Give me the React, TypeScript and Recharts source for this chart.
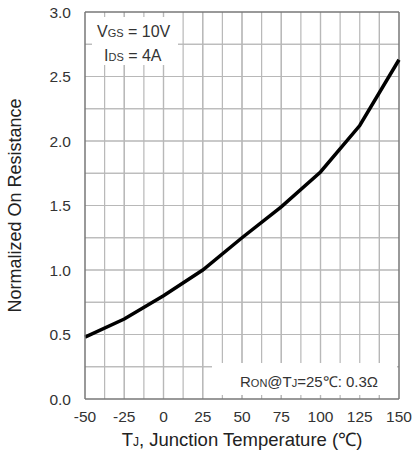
import * as React from "react";
import {
  LineChart, Line, XAxis, YAxis, ReferenceLine, CartesianGrid, Label,
} from "recharts";

// Tj (°C) vs normalized Rds(on)
const temps = [-50, -25, 0, 25, 50, 75, 100, 125, 150];
const normRon = [0.48, 0.62, 0.8, 1.0, 1.25, 1.49, 1.76, 2.12, 2.63];

const xTicks = [-50, -25, 0, 25, 50, 75, 100, 125, 150];
const yTicks = [0, 0.5, 1.0, 1.5, 2.0, 2.5, 3.0];
const xGrid = [-37.5, -25, -12.5, 0, 12.5, 25, 37.5, 50, 62.5, 75, 87.5, 100, 112.5, 125, 137.5];
const yGrid = [0.25, 0.5, 0.75, 1.0, 1.25, 1.5, 1.75, 2.0, 2.25, 2.5, 2.75];

const FONT = "'Liberation Sans', Arial, sans-serif";

export default function App() {
  const data = temps.map((t, i) => ({ t, r: normRon[i] }));
  const tickStyle = { fontSize: 15.5, fill: "#333", fontFamily: FONT };

  return (
    <div style={{ position: "relative", width: 414, height: 454, background: "#fff", fontFamily: FONT }}>
      <style>{`body{margin:0}`}</style>
      <LineChart width={414} height={454} data={data} margin={{ top: 12, right: 15, bottom: 0, left: 0 }}>
        <CartesianGrid
          stroke="#b8b8b8"
          strokeWidth={1.2}
          horizontalValues={yGrid}
          verticalValues={xGrid}
        />
        {xGrid.map((v) => (
          <ReferenceLine key={"x" + v} x={v} stroke="#b8b8b8" strokeWidth={1.2} ifOverflow="extendDomain" />
        ))}
        {yGrid.map((v) => (
          <ReferenceLine key={"y" + v} y={v} stroke="#b8b8b8" strokeWidth={1.2} ifOverflow="extendDomain" />
        ))}
        <XAxis
          dataKey="t"
          type="number"
          domain={[-50, 150]}
          ticks={xTicks}
          tickLine={false}
          axisLine={{ stroke: "#777", strokeWidth: 1.5 }}
          tick={tickStyle}
          tickMargin={6}
          height={55}
        />
        <YAxis
          type="number"
          domain={[0, 3]}
          ticks={yTicks}
          tickFormatter={(v: number) => v.toFixed(1)}
          tickLine={false}
          axisLine={{ stroke: "#777", strokeWidth: 1.5 }}
          tick={tickStyle}
          tickMargin={8}
          width={85}
        >
          <Label
            angle={-90}
            position="insideLeft"
            offset={15}
            style={{ textAnchor: "middle", fontSize: 18, fill: "#222", fontFamily: FONT }}
            value="Normalized On Resistance"
          />
        </YAxis>
        <ReferenceLine x={150} stroke="#777" strokeWidth={1.5} />
        <ReferenceLine y={3} stroke="#777" strokeWidth={1.5} />
        <Line
          type="linear"
          dataKey="r"
          stroke="#000"
          strokeWidth={3.5}
          dot={false}
          isAnimationActive={false}
        />
      </LineChart>

      <div style={{ position: "absolute", left: 92, top: 17, width: 86, height: 48, background: "#fff", color: "#333", fontSize: 16 }}>
        <div style={{ position: "absolute", left: 5, top: 6, whiteSpace: "nowrap" }}>
          V<span style={{ fontSize: 11 }}>GS</span> = 10V
        </div>
        <div style={{ position: "absolute", left: 12, top: 30, whiteSpace: "nowrap" }}>
          I<span style={{ fontSize: 11 }}>DS</span> = 4A
        </div>
      </div>

      <div style={{ position: "absolute", left: 212, top: 363, width: 185, height: 32, background: "#fff", color: "#333", fontSize: 15 }}>
        <div style={{ position: "absolute", left: 28, top: 8, whiteSpace: "nowrap" }}>
          R<span style={{ fontSize: 11 }}>ON</span>@T<span style={{ fontSize: 11 }}>J</span>=25℃: 0.3Ω
        </div>
      </div>

      <div style={{ position: "absolute", left: 85, width: 314, top: 426, textAlign: "center", color: "#222", fontSize: 18.5, whiteSpace: "nowrap" }}>
        T<span style={{ fontSize: 12 }}>J</span>, Junction Temperature (℃)
      </div>
    </div>
  );
}
